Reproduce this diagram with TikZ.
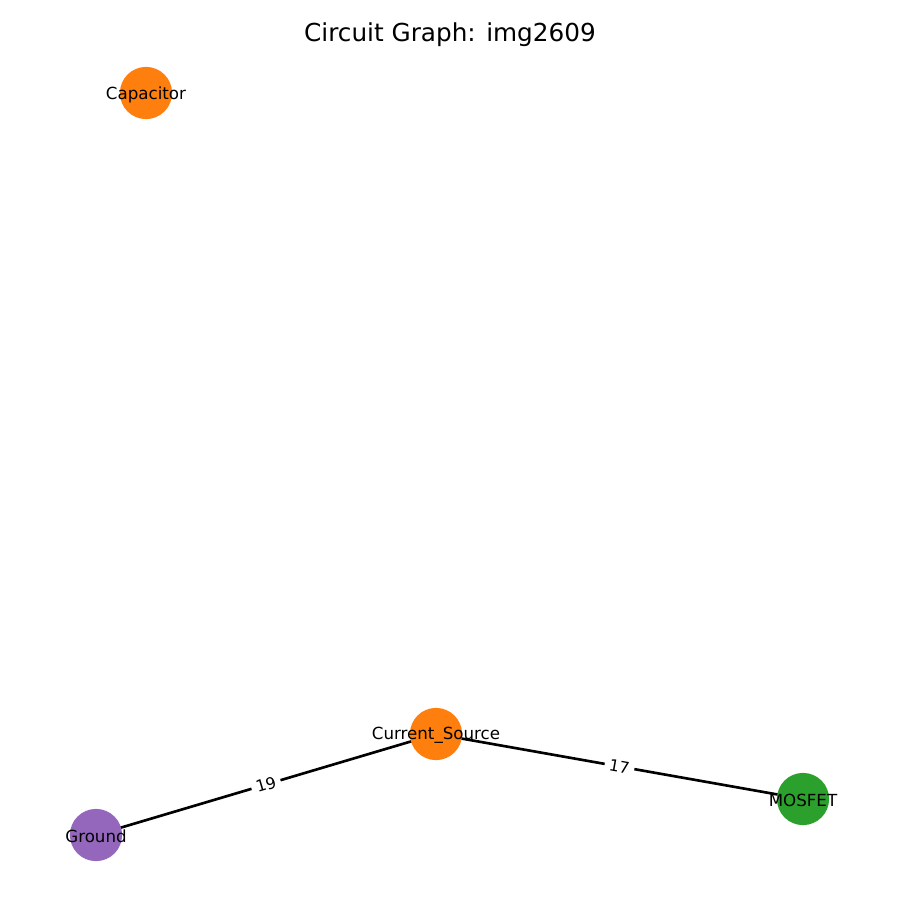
\documentclass[tikz,border=0pt]{standalone}
\usepackage{fontspec}
\setmainfont{DejaVu Sans}
\usetikzlibrary{backgrounds}

\definecolor{c0}{HTML}{FF7F0E}
\definecolor{c1}{HTML}{2CA02C}
\definecolor{c2}{HTML}{9467BD}

\tikzset{
  vertex/.style={circle, fill=#1, minimum size=37.6pt, inner sep=0pt},
  vlabel/.style={font=\fontsize{12}{14}\selectfont, yshift=-1.2pt},
  wire/.style={line width=1.9pt, black},
  weight/.style={midway, sloped, fill=white, inner xsep=3.5pt, inner ysep=1pt, font=\fontsize{11.5}{13}\selectfont}
}

\begin{document}
\begin{tikzpicture}[x=0.72pt, y=-0.72pt]
        \useasboundingbox (0,0) rectangle (900,900);
        \node[font=\fontsize{17.8}{21}\selectfont] (title) at (450,35) {Circuit Graph: img2609};
        \node[vertex=c0, label={[vlabel]center:Capacitor}] (cap) at (146,93) {};
        \node[vertex=c0, label={[vlabel]center:Current\_Source}] (cs) at (436,734) {};
        \node[vertex=c2, label={[vlabel]center:Ground}] (gnd) at (96,835) {};
        \node[vertex=c1, label={[vlabel]center:MOSFET}] (mos) at (803,799) {};
        \begin{pgfonlayer}{background}
          \draw[wire] (gnd.center) -- (cs.center) node[weight] {19};
          \draw[wire] (cs.center) -- (mos.center) node[weight] {17};
        \end{pgfonlayer}
      \end{tikzpicture}
\end{document}
